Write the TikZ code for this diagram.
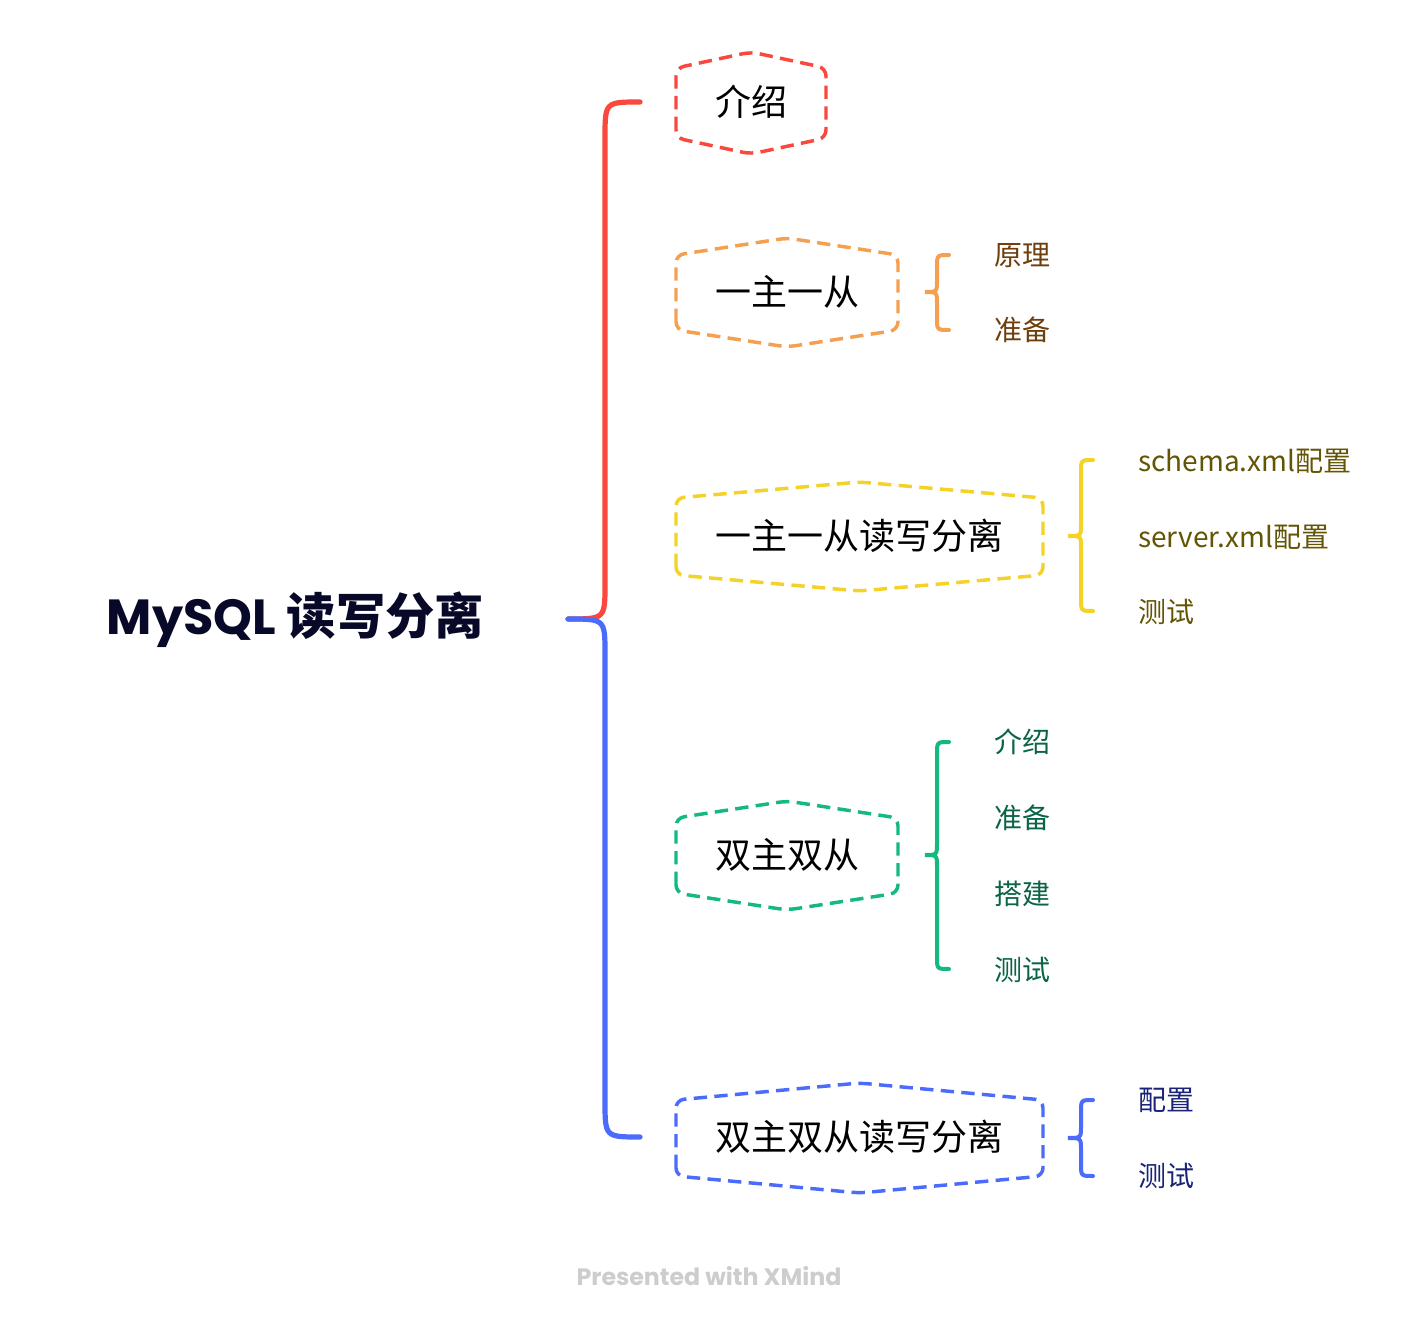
\documentclass[tikz,border=0pt]{standalone}
\usepackage{fontspec}
\newfontfamily\cjk{Noto Sans CJK SC}
\newfontfamily\pop{Poppins}
\definecolor{cred}{RGB}{250,72,62}
\definecolor{corange}{RGB}{245,160,80}
\definecolor{cyellow}{RGB}{245,210,40}
\definecolor{cgreen}{RGB}{20,185,125}
\definecolor{cblue}{RGB}{75,108,250}
\definecolor{tbrown}{RGB}{110,62,12}
\definecolor{tolive}{RGB}{100,85,5}
\definecolor{tgreen}{RGB}{10,100,70}
\definecolor{tnavy}{RGB}{25,35,120}
\definecolor{troot}{RGB}{8,8,40}
\definecolor{tfoot}{RGB}{205,205,205}
\tikzset{
  branch/.style={line width=3.9pt, line cap=round},
  hexline/.style={line width=2.6pt, dash pattern=on 10pt off 5.5pt, rounded corners=6pt},
  bracel/.style={line width=3pt, line cap=round},
  topic/.style={font=\cjk\fontsize{27}{30}\selectfont, text=black, inner sep=0pt},
  leaf/.style={font=\cjk\fontsize{21}{24}\selectfont, anchor=west, inner sep=0pt},
}
% hex: cx, cy, half width, half side height, peak, colour
\newcommand\hexshape[6]{%
  \draw[hexline, #6] ({#1-#3},{#2+#4}) -- ({#1-#3},{#2-#4}) -- (#1,{#2-#4-#5})
    -- ({#1+#3},{#2-#4}) -- ({#1+#3},{#2+#4}) -- (#1,{#2+#4+#5}) -- cycle;}
% brace: tip x, vertical x, end x, top y, tip y, bottom y, colour
\newcommand\mybrace[7]{%
  \draw[bracel, #7] (#3,#4) .. controls (#2,#4) .. (#2,{#4+12}) -- (#2,{#5-12})
    .. controls (#2,#5) .. (#1,#5) .. controls (#2,#5) .. (#2,{#5+12})
    -- (#2,{#6-12}) .. controls (#2,#6) .. (#3,#6);}
\begin{document}
\begin{tikzpicture}[x=0.75pt,y=-0.75pt]
\useasboundingbox[fill=white] (0,0) rectangle (1418,1326);

% root
\node[anchor=center, inner sep=0pt, text=troot] (root) at (295.5,620)
  {\pop\bfseries\fontsize{37}{40}\selectfont MySQL\ {\cjk\bfseries 读写分离}};
\coordinate (rj) at (568,619);
\coordinate (c1) at (640,102);
\coordinate (c5) at (640,1137);

% main branches
\draw[branch, cred] (rj) .. controls (605,619) .. (605,584) -- (605,138) .. controls (605,102) .. (c1);
\draw[branch, cblue] (rj) .. controls (605,619) .. (605,654) -- (605,1101) .. controls (605,1137) .. (c5);

% topics
\node[topic] (n1) at (751,102) {介绍};
\hexshape{751}{103}{75}{35}{16}{cred}
\node[topic] (n2) at (787,292) {一主一从};
\hexshape{787}{292.5}{111}{37.5}{17}{corange}
\node[topic] (n3) at (859.5,536) {一主一从读写分离};
\hexshape{859.5}{536.5}{183.5}{38.5}{16}{cyellow}
\node[topic] (n4) at (787,855) {双主双从};
\hexshape{787}{855.5}{111}{37.5}{17}{cgreen}
\node[topic] (n5) at (859.5,1137) {双主双从读写分离};
\hexshape{859.5}{1138}{183.5}{38}{17}{cblue}

% braces
\mybrace{925}{937}{949}{255}{292}{330}{corange}
\mybrace{1068}{1081}{1093}{460}{536}{611}{cyellow}
\mybrace{925}{937}{949}{742}{855}{969}{cgreen}
\mybrace{1068}{1081}{1093}{1100}{1138}{1176}{cblue}

% leaves
\node[leaf, text=tbrown] (l21) at (994,255) {原理};
\node[leaf, text=tbrown] (l22) at (994,330) {准备};
\node[leaf, text=tolive] (l31) at (1138,461) {schema.xml配置};
\node[leaf, text=tolive] (l32) at (1138,537) {server.xml配置};
\node[leaf, text=tolive] (l33) at (1138,612) {测试};
\node[leaf, text=tgreen] (l41) at (994,742) {介绍};
\node[leaf, text=tgreen] (l42) at (994,818) {准备};
\node[leaf, text=tgreen] (l43) at (994,894) {搭建};
\node[leaf, text=tgreen] (l44) at (994,970) {测试};
\node[leaf, text=tnavy] (l51) at (1138,1100) {配置};
\node[leaf, text=tnavy] (l52) at (1138,1176) {测试};

% footer
\node[text=tfoot, inner sep=0pt] (foot) at (709,1276) {\pop\bfseries\fontsize{17.8}{20}\selectfont Presented with XMind};
\end{tikzpicture}
\end{document}
